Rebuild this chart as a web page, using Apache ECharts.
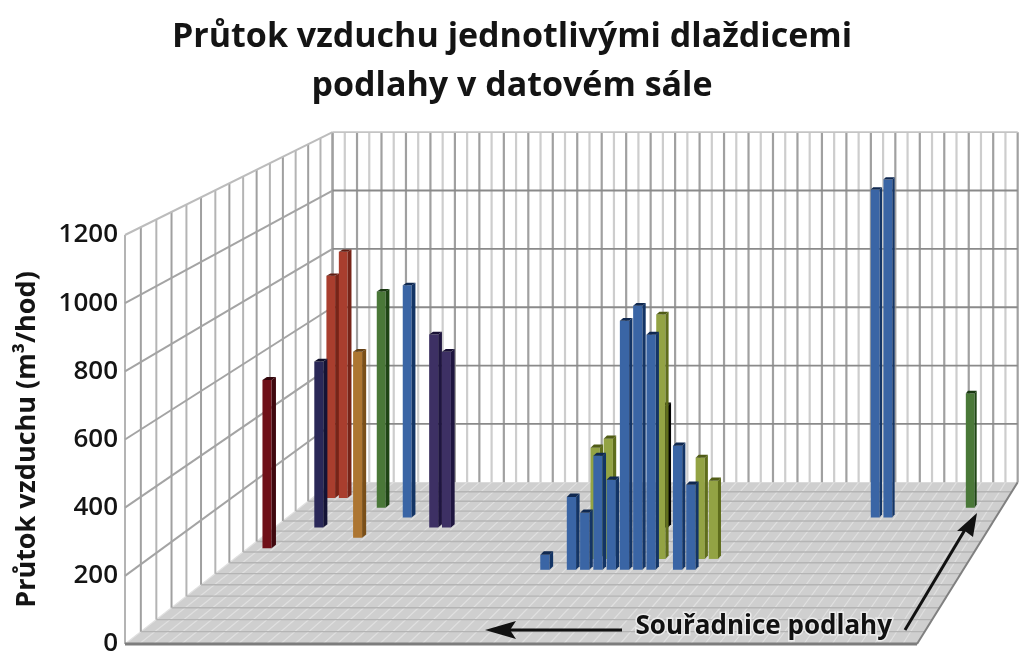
<!DOCTYPE html>
<html>
<head>
<meta charset="utf-8">
<style>html,body{margin:0;padding:0;background:#fff}#c{width:1024px;height:668px}</style>
<script src="https://cdn.jsdelivr.net/npm/echarts@6/dist/echarts.min.js"></script>
</head>
<body>
<div id="c"></div>
<script>
// Each bar: [column, row, airflow m3/h]
var maroonBars = [[1, 8, 540]];
var navyBars = [[3, 10, 544]];
var redBars = [[1, 13, 749], [2, 13, 830]];
var orangeBars = [[7, 9, 603]];
var darkGreenBars = [[6, 12, 722], [53, 12, 381]];
var blueBars = [
  [9, 11, 768], [46, 11, 1085], [47, 11, 1118],
  [24, 6, 47], [26, 6, 229], [27, 6, 179], [28, 6, 358], [29, 6, 283],
  [30, 6, 783], [31, 6, 830], [32, 6, 739], [34, 6, 390], [35, 6, 267]
];
var purpleBars = [[12, 10, 632], [13, 10, 576]];
var oliveBars = [[27, 7, 353], [28, 7, 382], [32, 7, 776], [35, 7, 321], [36, 7, 248]];
var blackBars = [[30, 10, 400]];
var floorColumns = 56;
var floorRows = 15;
var valueTicks = [0, 200, 400, 600, 800, 1000, 1200];
var titleText = 'Průtok vzduchu jednotlivými dlaždicemi\npodlahy v datovém sále';
var yName = 'Průtok vzduchu (m³/hod)';
var floorLabel = 'Souřadnice podlahy';

// perspective: column/row/value to front-plane data units
var VX = 108.75, VY = 3515, A = 0.156, B = 0.168;
function project(c, r, v) {
  var t = r / floorRows, s = 1 / (1 + A * t), sh = 1 / (1 + B * t);
  return [VX + (c - VX) * s, VY * (1 - s) + v * sh];
}
function pt(api, c, r, v) { return api.coord(project(c, r, v)); }
function line(a, b, color, w, z2) {
  return { type: 'line', shape: { x1: a[0], y1: a[1], x2: b[0], y2: b[1] }, style: { stroke: color, lineWidth: w }, z2: z2 };
}
function poly(points, fill, z2) {
  return { type: 'polygon', shape: { points: points }, style: { fill: fill }, z2: z2 };
}

function renderWalls(params, api) {
  var ch = [], i, top = valueTicks[valueTicks.length - 1];
  // floor
  ch.push(poly([pt(api, 0, 0, 0), pt(api, floorColumns, 0, 0), pt(api, floorColumns, floorRows, 0), pt(api, 0, floorRows, 0)], '#cfcfcf', 1));
  for (i = 0; i <= floorColumns; i++) ch.push(line(pt(api, i, 0, 0), pt(api, i, floorRows, 0), '#e0e0e0', 1.2, 2));
  for (i = 1; i < floorRows; i++) ch.push(line(pt(api, 0, i, 0), pt(api, floorColumns, i, 0), '#b4b4b4', 1.4, 3));
  ch.push(line(pt(api, 0, 0, 0), pt(api, floorColumns, 0, 0), '#7d7d7d', 3, 4));
  ch.push(line(pt(api, floorColumns, 0, 0), pt(api, floorColumns, floorRows, 0), '#808080', 2, 4));
  // left wall and back wall verticals
  for (i = 0; i <= floorRows; i++) {
    ch.push(line(pt(api, 0, i, 0), pt(api, 0, i, top), i % 2 ? '#a0a0a0' : '#b4b4b4', 2, 2));
  }
  for (i = 0; i <= floorColumns; i++) {
    ch.push(line(pt(api, i, floorRows, 0), pt(api, i, floorRows, top), i % 2 ? '#cdcdcd' : '#a0a0a0', 2.2, 2));
  }
  // horizontals
  valueTicks.forEach(function (v) {
    if (v === 0) return;
    ch.push(line(pt(api, 0, 0, v), pt(api, 0, floorRows, v), v === top ? '#bcbcbc' : '#a4a4a4', 2, 3));
    ch.push(line(pt(api, 0, floorRows, v), pt(api, floorColumns, floorRows, v), v === top ? '#c4c4c4' : '#8a8a8a', 1.8, 3));
  });
  return { type: 'group', children: ch };
}

function barSeries(name, data, front, side, topFace) {
  return {
    type: 'custom', name: name, data: data, coordinateSystem: 'cartesian2d',
    encode: { x: 0, y: 2 }, silent: true, z: 3,
    renderItem: function (params, api) {
      var c = api.value(0), r = api.value(1), v = api.value(2);
      var x0 = c + 0.12, x1 = c + 0.82, r0 = r + 0.35, r1 = r + 0.68;
      var z2 = (floorRows - r) * 100 + c;
      return {
        type: 'group',
        children: [
          poly([pt(api, x0, r0, 0), pt(api, x1, r0, 0), pt(api, x1, r0, v), pt(api, x0, r0, v)], front, z2),
          poly([pt(api, x1, r0, 0), pt(api, x1, r1, 0), pt(api, x1, r1, v), pt(api, x1, r0, v)], side, z2),
          poly([pt(api, x0, r0, v), pt(api, x1, r0, v), pt(api, x1, r1, v), pt(api, x0, r1, v)], topFace, z2)
        ]
      };
    }
  };
}

var chart = echarts.init(document.getElementById('c'), null, { renderer: 'canvas' });
chart.setOption({
  animation: false,
  backgroundColor: '#ffffff',
  title: {
    text: titleText, left: 'center', top: 8,
    textStyle: { fontFamily: 'Open Sans', fontWeight: 'bold', fontSize: 34, lineHeight: 49, color: '#141414' }
  },
  grid: { left: 125, top: 235, width: 792, height: 409 },
  xAxis: { type: 'value', min: 0, max: floorColumns, show: false },
  yAxis: {
    type: 'value', min: 0, max: 1200, interval: 200,
    name: yName, nameLocation: 'middle', nameRotate: 90, nameGap: 84,
    nameTextStyle: { fontFamily: 'Open Sans', fontWeight: 'bold', fontSize: 27, color: '#141414' },
    axisLine: { show: false }, axisTick: { show: false }, splitLine: { show: false },
    axisLabel: { margin: 7, fontFamily: 'Open Sans', fontWeight: 600, fontSize: 26, color: '#141414', formatter: function (v) { return String(v); } }
  },
  series: [
    { type: 'custom', name: 'walls', data: [[0, 0]], silent: true, z: 2, renderItem: renderWalls },
    barSeries('maroon', maroonBars, '#701018', '#3f080e', '#33060c'),
    barSeries('navy', navyBars, '#2a2858', '#141335', '#11102b'),
    barSeries('red', redBars, '#a93e2e', '#762418', '#5f1c12'),
    barSeries('orange', orangeBars, '#ad7632', '#7a4f18', '#654114'),
    barSeries('darkGreen', darkGreenBars, '#4a7838', '#1f4515', '#193811'),
    barSeries('blue', blueBars, '#3a65a5', '#133465', '#0f2850'),
    barSeries('purple', purpleBars, '#3d3064', '#1e153f', '#191135'),
    barSeries('olive', oliveBars, '#93a344', '#5f6d1c', '#505c16'),
    barSeries('black', blackBars, '#111111', '#000000', '#000000')
  ],
  graphic: [
    { type: 'text', left: 634, top: 612, z: 20, style: { text: floorLabel, fontFamily: 'Open Sans', fontWeight: 'bold', fontSize: 26, fill: '#111', stroke: '#ececec', lineWidth: 3 } },
    { type: 'line', z: 20, shape: { x1: 510, y1: 630, x2: 622, y2: 630 }, style: { stroke: '#111', lineWidth: 3 } },
    { type: 'polygon', z: 20, shape: { points: [[485, 630], [516, 621], [510, 630], [516, 639]] }, style: { fill: '#111' } },
    { type: 'line', z: 20, shape: { x1: 905, y1: 630, x2: 966, y2: 528 }, style: { stroke: '#111', lineWidth: 3 } },
    { type: 'polygon', z: 20, shape: { points: [[977, 513], [973, 537], [965, 531], [957, 531]] }, style: { fill: '#111' } }
  ]
});
</script>
</body>
</html>
